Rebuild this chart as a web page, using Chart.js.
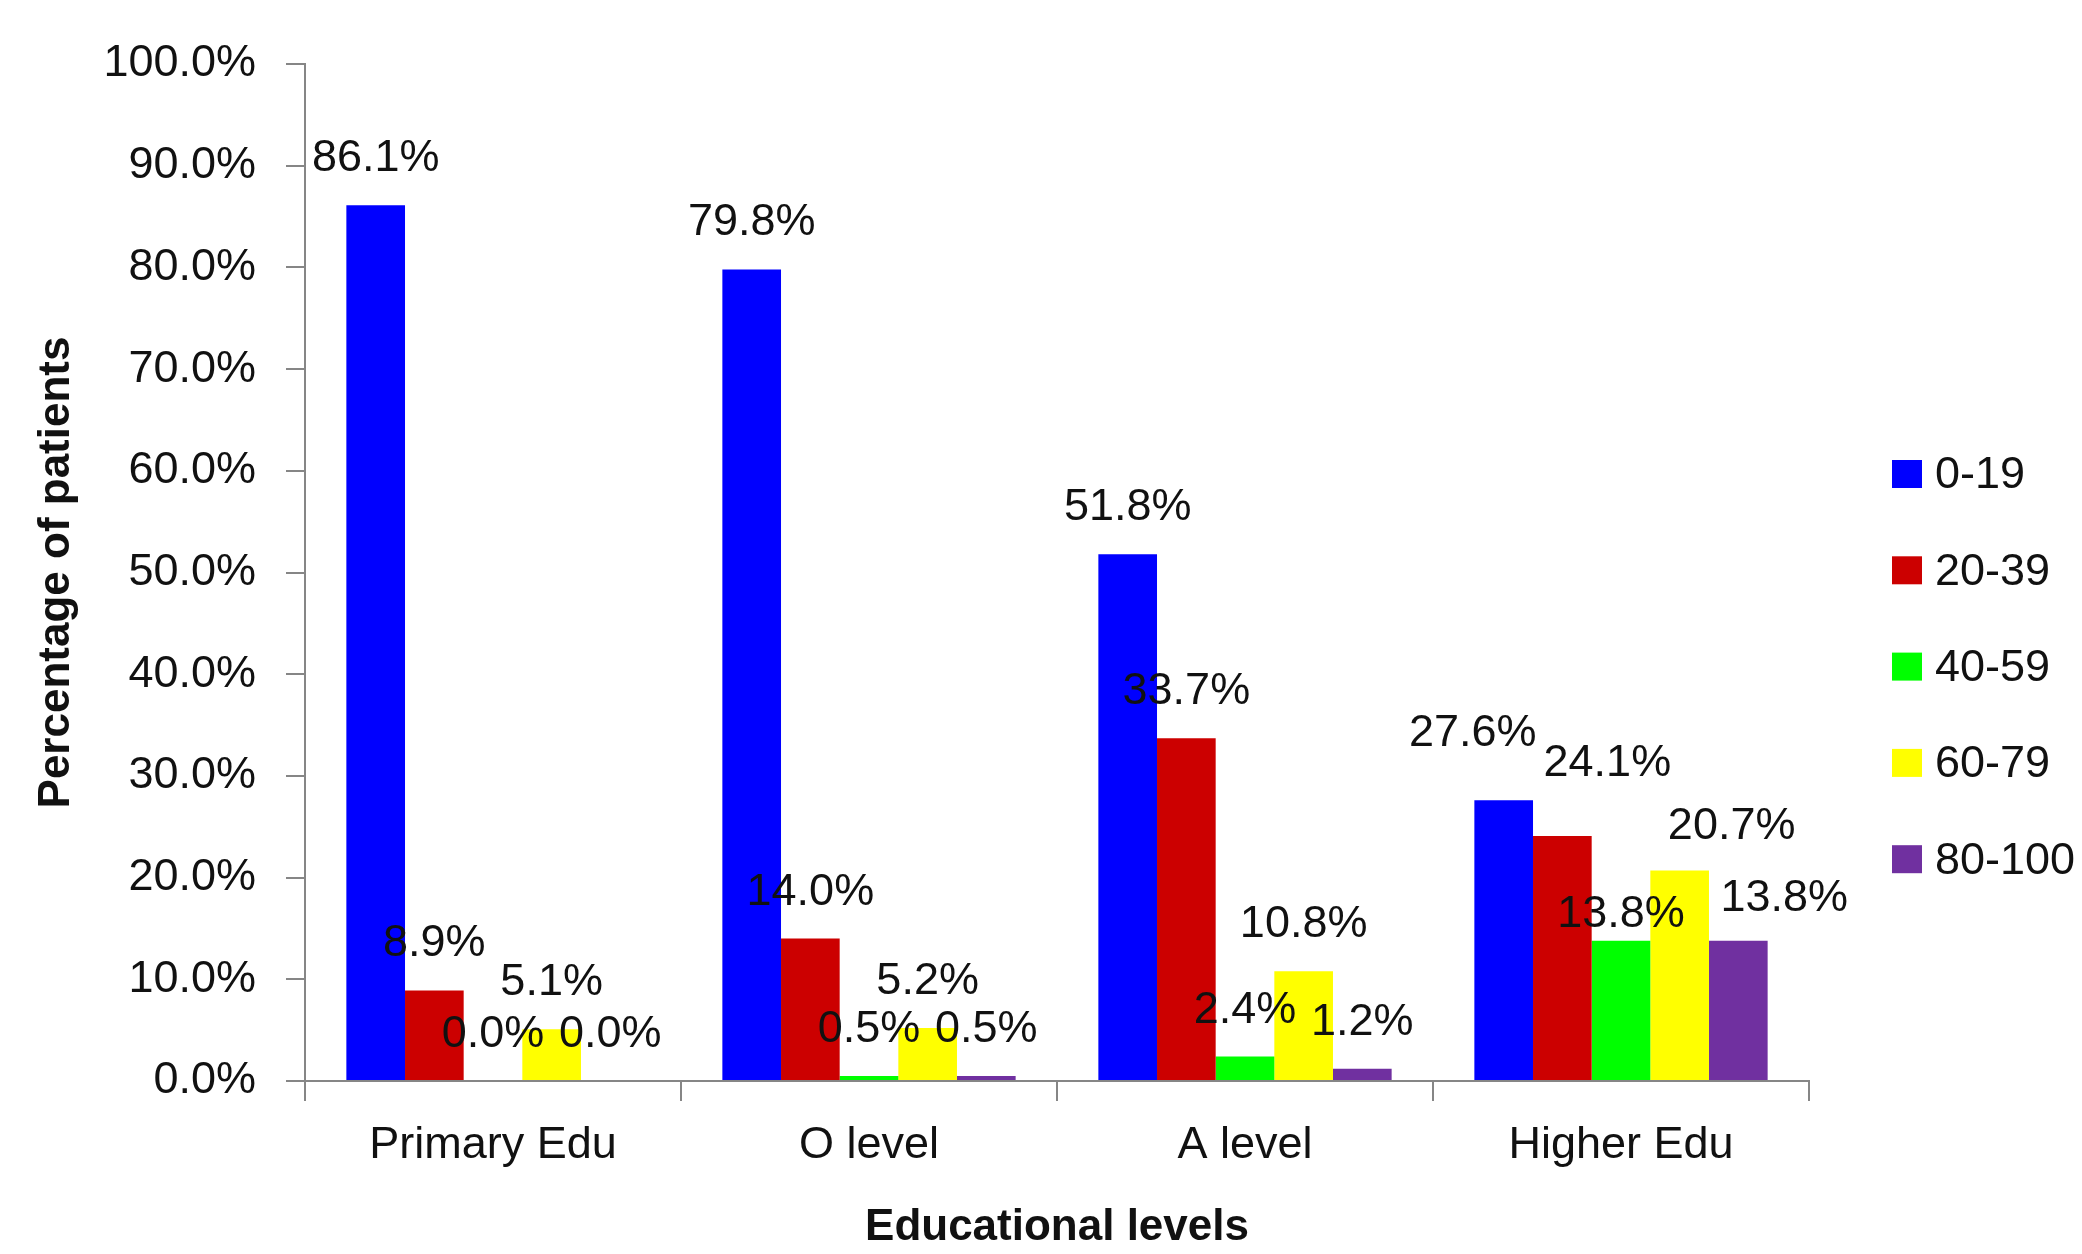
<!DOCTYPE html>
<html>
<head>
<meta charset="utf-8">
<script src="https://cdn.jsdelivr.net/npm/chart.js@4.4.0/dist/chart.umd.min.js"></script>
<style>
  html, body { margin: 0; padding: 0; background: #fff; }
</style>
</head>
<body>
<canvas id="eduChart" width="2082" height="1254"></canvas>
<script>
// education levels on the x axis
const levels = ['Primary Edu', 'O level', 'A level', 'Higher Edu'];
// score groups (legend)
const groups = ['0-19', '20-39', '40-59', '60-79', '80-100'];

// percentage of patients per group, one value per level
const pct0to19   = [86.1, 79.8, 51.8, 27.6];
const pct20to39  = [8.9, 14.0, 33.7, 24.1];
const pct40to59  = [0.0, 0.5, 2.4, 13.8];
const pct60to79  = [5.1, 5.2, 10.8, 20.7];
const pct80to100 = [0.0, 0.5, 1.2, 13.8];

const yTicks = [0, 10, 20, 30, 40, 50, 60, 70, 80, 90, 100];

const groupColors = ['#0000FF', '#CC0000', '#00FF00', '#FFFF00', '#7030A0'];
const FONT = '"Liberation Sans", Arial, sans-serif';

// hand-moved labels in the original (Higher Edu group), pixel nudges [dx, dy]
const labelNudge = {
    '0-3': [-31, -20],
    '1-3': [45, -26],
    '2-3': [0, 20],
    '3-3': [52, 3],
    '4-3': [46, 4]
};

// labels above each bar
const barLabels = {
    id: 'barLabels',
    afterDatasetsDraw(chart) {
        const ctx = chart.ctx;
        ctx.save();
        ctx.font = '45px ' + FONT;
        ctx.fillStyle = '#111';
        ctx.textAlign = 'center';
        ctx.textBaseline = 'alphabetic';
        chart.data.datasets.forEach((ds, i) => {
            chart.getDatasetMeta(i).data.forEach((bar, j) => {
                const [dx, dy] = labelNudge[i + '-' + j] || [0, 0];
                ctx.fillText(ds.data[j].toFixed(1) + '%', bar.x + dx, bar.y - 34 + dy);
            });
        });
        ctx.restore();
    }
};

// legend on the right, drawn like the original (square + text)
const sideLegend = {
    id: 'sideLegend',
    afterDraw(chart) {
        const ctx = chart.ctx;
        ctx.save();
        ctx.font = '45px ' + FONT;
        ctx.textAlign = 'left';
        ctx.textBaseline = 'middle';
        chart.data.datasets.forEach((ds, i) => {
            const cy = 474 + i * 96.3;
            ctx.fillStyle = ds.backgroundColor;
            ctx.fillRect(1892, cy - 14, 30, 28);
            ctx.fillStyle = '#111';
            ctx.fillText(ds.label, 1935, cy + 2);
        });
        ctx.restore();
    }
};

const allSeries = [pct0to19, pct20to39, pct40to59, pct60to79, pct80to100];

new Chart(document.getElementById('eduChart'), {
    type: 'bar',
    data: {
        labels: levels,
        datasets: groups.map((g, i) => ({
            label: g,
            data: allSeries[i],
            backgroundColor: groupColors[i],
            borderWidth: 0,
            categoryPercentage: 0.78,
            barPercentage: 1.0
        }))
    },
    options: {
        responsive: false,
        animation: false,
        devicePixelRatio: 1,
        layout: { padding: { left: 0, right: 273, top: 64, bottom: 0 } },
        plugins: {
            legend: { display: false },
            tooltip: { enabled: false }
        },
        scales: {
            x: {
                grid: { drawOnChartArea: false, drawTicks: true, tickLength: 20, color: '#868686', lineWidth: 2 },
                border: { display: true, color: '#868686', width: 2 },
                ticks: { color: '#111', font: { family: FONT, size: 45 }, padding: 18 },
                title: {
                    display: true,
                    text: 'Educational levels',
                    color: '#111',
                    font: { family: FONT, size: 44, weight: 'bold' },
                    padding: { top: 0, bottom: 0 }
                },
                afterFit(scale) { scale.height = 173; }
            },
            y: {
                min: 0,
                max: 100,
                afterBuildTicks(scale) { scale.ticks = yTicks.map(v => ({ value: v })); },
                grid: { drawOnChartArea: false, drawTicks: true, tickLength: 19, color: '#868686', lineWidth: 2 },
                border: { display: true, color: '#868686', width: 2 },
                ticks: {
                    color: '#111',
                    font: { family: FONT, size: 45 },
                    padding: 30,
                    callback: v => v.toFixed(1) + '%'
                },
                title: {
                    display: true,
                    text: 'Percentage of patients',
                    color: '#111',
                    font: { family: FONT, size: 44, weight: 'bold' },
                    padding: { top: 30, bottom: 0 }
                },
                afterFit(scale) { scale.width = 305; }
            }
        }
    },
    plugins: [barLabels, sideLegend]
});
</script>
</body>
</html>
